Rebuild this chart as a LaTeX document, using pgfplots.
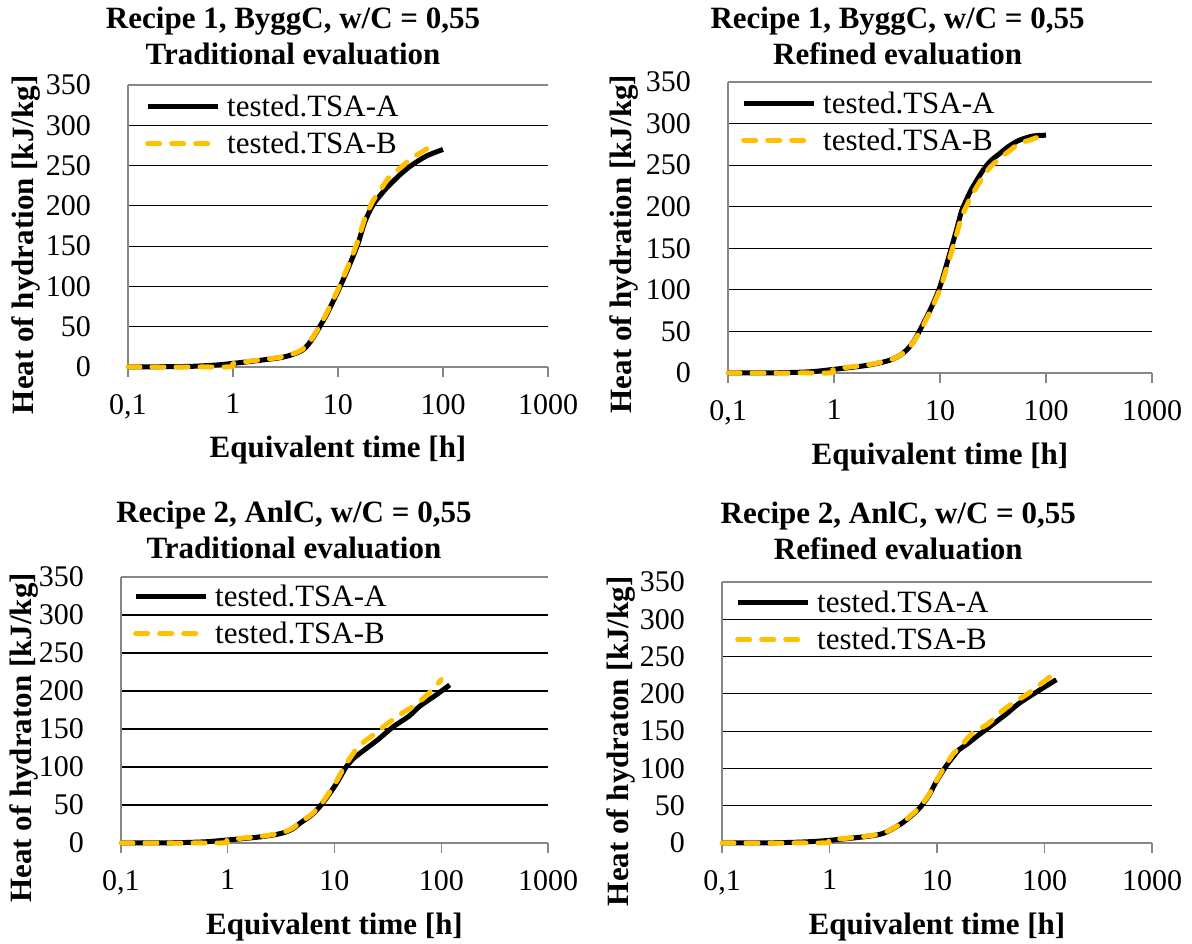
\documentclass[border=0pt]{standalone}
\usepackage{pgfplots}
\pgfplotsset{compat=1.18}
\usepackage{fontspec}
\setmainfont{Liberation Serif}
\definecolor{gold}{RGB}{255,192,0}
\definecolor{axgray}{RGB}{134,134,134}
\pgfplotsset{
  every axis/.append style={
    scale only axis,
    xmin=0.1, xmax=1000, ymin=0, ymax=350,
    xtick={0.1,1,10,100,1000},
    xticklabels={{0,1},1,10,100,1000},
    xminorticks=false,
    ytick={50,100,150,200,250,300},
    yticklabels={50,100,150,200,250,300},
    extra y ticks={0,350},
    extra y tick labels={0,350},
    extra y tick style={grid style={axgray, line width=1.3pt}},
    axis lines=left, axis line style={-, axgray, line width=1.3pt},
    ymajorgrids, grid style={black, line width=1.1pt},
    tick align=outside, major tick length=10pt,
    xtick style={axgray, line width=1.3pt},
    ytick style={draw=none},
    tick label style={font=\fontsize{30}{34}\selectfont},
    yticklabel style={anchor=east, inner sep=0pt, xshift=-27pt},
    xticklabel style={anchor=north, inner sep=0pt, yshift=-17pt},
    label style={font=\bfseries\fontsize{31}{34}\selectfont},
    xlabel style={at={(axis description cs:0.5,0)}, anchor=base},
    ylabel style={anchor=center},
    title style={font=\bfseries\fontsize{31}{36}\selectfont, align=center, anchor=south, inner sep=0pt},
    clip=false,
    legend style={draw=none, fill=none, anchor=north west, at={(axis description cs:0,1)},
      font=\fontsize{31}{34}\selectfont, inner sep=0pt, row sep=10pt, column sep=5pt,
      nodes={inner sep=2pt}},
    legend cell align=left,
  },
  legend image code/.code={\draw[#1] (0pt,0pt) -- (70pt,0pt);},
}
\begin{document}
\begin{tikzpicture}
\useasboundingbox (0,0) rectangle (1192pt,944pt);
% Panel 1
\begin{semilogxaxis}[at={(128pt,577pt)}, anchor=south west, width=420pt, height=282pt,
  title={Recipe 1, ByggC, w/C = 0,55\\Traditional evaluation},
  title style={at={(axis description cs:0.393,1)}, yshift=14pt},
  xlabel={Equivalent time [h]}, xlabel style={yshift=-91pt},
  ylabel={Heat of hydration [kJ/kg]}, ylabel style={at={(axis description cs:-0.243,0.433)}},
  legend style={xshift=17pt, yshift=-8pt}]
\addplot[black, line width=5pt, smooth] coordinates {(0.1,0) (0.2,0.3) (0.4,0.8) (0.7,2.5) (1,4.5) (1.5,7) (2,9) (2.8,11.5) (3.5,14.5) (4.6,21) (5.5,32) (6.7,50) (8,68) (10.4,99) (13,128) (15.5,153) (18,180) (21.5,201) (26,215) (31,226) (40,240) (51,251) (70,262) (100,270)};
\addplot[gold, line width=5pt, smooth, dash pattern=on 12pt off 12pt, line cap=round] coordinates {(0.1,0) (0.5,0) (0.95,0.3) (1.02,4.5) (1.5,7.5) (2,9.5) (2.8,12) (3.5,15) (4.6,22) (5.5,33) (6.7,51) (8,70) (10.4,101) (13,131) (15.5,157) (18,184) (21.5,206) (26,222) (31,236) (40,248) (50,259) (65,268) (80,276)};
\legend{tested.TSA-A, tested.TSA-B}
\end{semilogxaxis}
% Panel 2
\begin{semilogxaxis}[at={(728pt,571pt)}, anchor=south west, width=424pt, height=291pt,
  title={Recipe 1, ByggC, w/C = 0,55\\Refined evaluation},
  title style={at={(axis description cs:0.40,1)}, yshift=11pt},
  xlabel={Equivalent time [h]}, xlabel style={yshift=-92pt},
  ylabel={Heat of hydration [kJ/kg]}, ylabel style={at={(axis description cs:-0.246,0.443)}},
  legend style={xshift=13pt, yshift=-8pt}]
\addplot[black, line width=5pt, smooth] coordinates {(0.1,0) (0.3,0.3) (0.6,1.5) (1,4.4) (2,9) (3.35,15.3) (4.5,24) (5.6,37.4) (7,60) (8.5,82) (10,104) (12,138) (14.3,172) (16,195) (17.7,208) (20,222) (25.5,244) (30,255) (36.6,264) (45,273) (56,280) (75,285) (100,286)};
\addplot[gold, line width=5pt, smooth, dash pattern=on 12pt off 12pt, line cap=round] coordinates {(0.1,0) (0.5,0) (0.95,0.3) (1.02,5) (2,9.5) (3.35,15.5) (4.5,24) (5.6,37) (7,58) (8.5,80) (10,101) (12,133) (14.3,166) (16,188) (17.7,200) (20,214) (25.5,236) (30,248) (36.6,258) (45,267) (56,276) (70,280) (81,283)};
\legend{tested.TSA-A, tested.TSA-B}
\end{semilogxaxis}
% Panel 3
\begin{semilogxaxis}[at={(121pt,101pt)}, anchor=south west, width=427pt, height=266pt,
  title={Recipe 2, AnlC, w/C = 0,55\\Traditional evaluation},
  title style={at={(axis description cs:0.405,1)}, yshift=12pt},
  xlabel={Equivalent time [h]}, xlabel style={yshift=-92pt},
  ylabel={Heat of hydraton [kJ/kg]}, ylabel style={at={(axis description cs:-0.228,0.395)}},
  legend style={xshift=12pt, yshift=-6pt}]
\addplot[black, line width=5pt, smooth] coordinates {(0.1,0) (0.3,0.3) (0.6,1.5) (1,4) (2,8) (3.1,12.3) (4,18) (4.75,26) (6,36) (7.3,48) (9,65) (10.5,79) (12,93) (13,101) (15,111) (17.3,118) (25,135) (35.6,153) (50,167) (63,180) (90,195) (120,208)};
\addplot[gold, line width=5pt, smooth, dash pattern=on 12pt off 12pt, line cap=round] coordinates {(0.1,0) (0.5,0) (0.95,0.3) (1.02,4.5) (2,8.5) (3.1,13) (4,19) (4.75,27) (6,37) (7.3,49) (9,67) (10.5,82) (12,97) (13,105) (15,118) (17.3,129) (24.6,145) (30,155) (41,169) (55,180) (70,192) (83,202) (100,215)};
\legend{tested.TSA-A, tested.TSA-B}
\end{semilogxaxis}
% Panel 4
\begin{semilogxaxis}[at={(722pt,101pt)}, anchor=south west, width=430pt, height=261pt,
  title={Recipe 2, AnlC, w/C = 0,55\\Refined evaluation},
  title style={at={(axis description cs:0.41,1)}, yshift=16pt},
  xlabel={Equivalent time [h]}, xlabel style={yshift=-92pt},
  ylabel={Heat of hydraton [kJ/kg]}, ylabel style={at={(axis description cs:-0.236,0.39)}},
  legend style={xshift=13pt, yshift=-7pt}]
\addplot[black, line width=5pt, smooth] coordinates {(0.1,0) (0.3,0.3) (0.6,1.5) (1,3.6) (2,8) (3.1,12.5) (4.5,24.6) (5.5,34) (6.9,47) (8.5,65) (9.9,83) (12,102) (14.2,116) (16,125) (18.8,132) (25,146) (33,159) (45,174) (59,188) (90,205) (129,219)};
\addplot[gold, line width=5pt, smooth, dash pattern=on 12pt off 12pt, line cap=round] coordinates {(0.1,0) (0.5,0) (0.95,0.3) (1.02,4) (2,8.5) (3.1,13) (4.5,25) (5.5,35) (6.9,48) (8.5,66) (9.9,84) (12,104) (14.2,120) (16,127) (21.3,147) (30,160) (38,174) (50,187) (68,199) (90,212) (120,226)};
\legend{tested.TSA-A, tested.TSA-B}
\end{semilogxaxis}
\end{tikzpicture}
\end{document}
